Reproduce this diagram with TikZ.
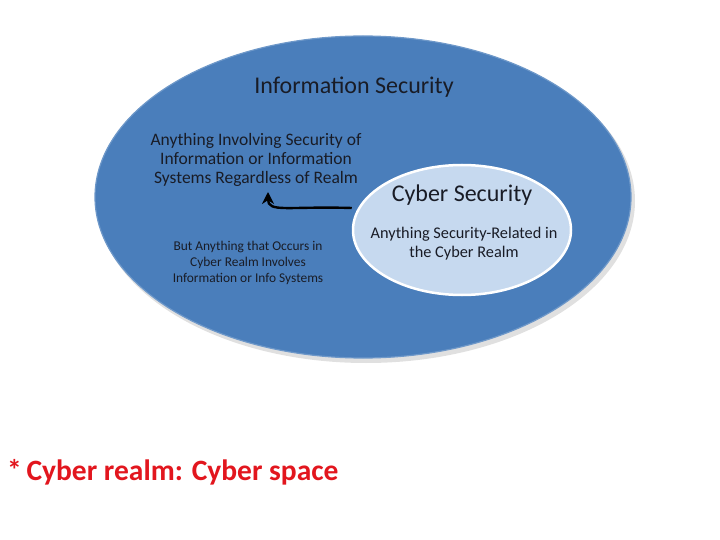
\documentclass[tikz,border=0pt]{standalone}
\usepackage{fontspec}
\setmainfont{Carlito}
\usetikzlibrary{shapes.geometric,arrows.meta}
\definecolor{outerblue}{RGB}{74,126,187}
\definecolor{innerblue}{RGB}{198,217,239}
\definecolor{notered}{RGB}{226,22,30}
\definecolor{textdark}{RGB}{25,28,38}
\tikzset{
  ring/.style={ellipse,inner sep=0pt},
  label text/.style={text=textdark,align=center,inner sep=0pt},
}
\begin{document}
\begin{tikzpicture}[x=1pt,y=-1pt]
		\useasboundingbox (0,0) rectangle (720,540);
		%\clip (0,0) rectangle (720,540);
		\coordinate (O) at (363,197);
		\coordinate (I) at (462,230);
		\coordinate (tip) at (268,192);
		% shadows
		\fill [black,opacity=0.12] (366,201) ellipse [x radius=269,y radius=162];
		\fill [black,opacity=0.15] (465,233) ellipse [x radius=111,y radius=66];
		% the two realms
		\node [ring,fill=outerblue,draw=outerblue!80!white,line width=1.2,minimum width=536,minimum height=322] (infosec) at (O) {};
		\node [ring,fill=innerblue,draw=white,line width=2.5,minimum width=218,minimum height=130] (cybsec) at (I) {};
		% texts
		\node [label text,font=\fontsize{24}{28}\selectfont] (infotitle) at (354,87) {Information Security};
		\node [label text,font=\fontsize{17.5}{19}\selectfont] (infotext) at (256,160) {Anything Involving Security of\\Information or Information\\Systems Regardless of Realm};
		\node [label text,font=\fontsize{13.4}{16}\selectfont] (buttext) at (248,263) {But Anything that Occurs in\\Cyber Realm Involves\\Information or Info Systems};
		\node [label text,font=\fontsize{24}{28}\selectfont] (cybtitle) at (462,195) {Cyber Security};
		\node [label text,font=\fontsize{16.3}{19}\selectfont] (cybtext) at (464,244) {Anything Security-Related in\\the Cyber Realm};
		% arrow out of the cyber realm
		\draw [line width=2.4,black,-{Stealth[length=12pt,width=12pt]}] (cybsec.west |- 0,208) .. controls (288,206) and (268,213) .. (tip);
		% note
		\node [anchor=base west,inner sep=0pt,text=notered,font=\bfseries\fontsize{29.5}{33}\selectfont] (note) at (7,480) {*\kern-2pt{} Cyber realm: Cyber space};
	\end{tikzpicture}
\end{document}
